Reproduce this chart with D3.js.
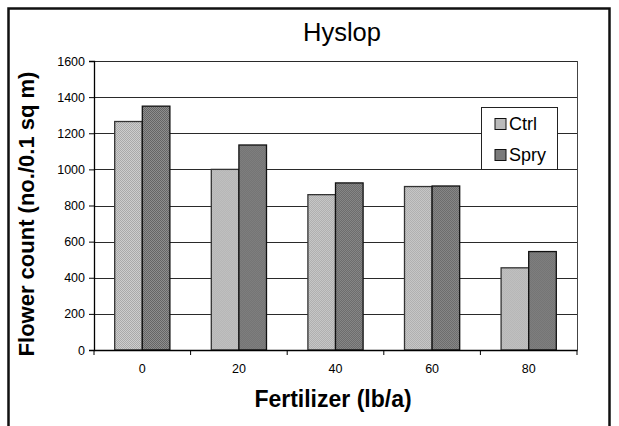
<!DOCTYPE html>
<html>
<head>
<meta charset="utf-8">
<script src="https://cdn.jsdelivr.net/npm/d3@7"></script>
<style>
  body { margin: 0; background: #fff; }
  text { font-family: Arial, "Liberation Sans", sans-serif; fill: #000; }
</style>
</head>
<body>
<div id="chart"></div>
<script>
// values
const categories = ["0", "20", "40", "60", "80"];
const seriesNames = ["Ctrl", "Spry"];
const ctrlValues = [1265, 1000, 860, 905, 455];
const spryValues = [1350, 1135, 925, 908, 545];
const yTicks = [0, 200, 400, 600, 800, 1000, 1200, 1400, 1600];

const W = 619, H = 426;
const plot = {left: 94, right: 577, top: 61, bottom: 350};
const font = "Arial, 'Liberation Sans', sans-serif";

const svg = d3.select("#chart").append("svg")
  .attr("width", W)
  .attr("height", H);

// dotted fills like the old excel bars
const defs = svg.append("defs");
function checker(id, base, dot) {
  const p = defs.append("pattern")
    .attr("id", id)
    .attr("width", 2).attr("height", 2)
    .attr("patternUnits", "userSpaceOnUse");
  p.append("rect").attr("width", 2).attr("height", 2).attr("fill", base);
  p.append("rect").attr("width", 1).attr("height", 1).attr("fill", dot);
  p.append("rect").attr("x", 1).attr("y", 1).attr("width", 1).attr("height", 1).attr("fill", dot);
}
checker("pCtrl", "#cdcdcd", "#a9a9a9");
checker("pSpry", "#8e8e8e", "#656565");
const fills = {Ctrl: "url(#pCtrl)", Spry: "url(#pSpry)"};

// outer frame
svg.append("rect")
  .attr("x", 8.5).attr("y", 8.5)
  .attr("width", 601).attr("height", 440)
  .attr("fill", "none")
  .attr("stroke", "#111")
  .attr("stroke-width", 2.5);

const x = d3.scaleBand()
  .domain(categories)
  .range([plot.left, plot.right]);

const xs = d3.scaleBand()
  .domain(seriesNames)
  .range([0, x.bandwidth()])
  .paddingOuter(0.75);

const y = d3.scaleLinear()
  .domain([0, 1600])
  .range([plot.bottom, plot.top]);

// gridlines
svg.append("g")
  .selectAll("line")
  .data(yTicks.filter(d => d > 0))
  .enter().append("line")
  .attr("x1", plot.left).attr("x2", plot.right)
  .attr("y1", d => Math.round(y(d)) + 0.5)
  .attr("y2", d => Math.round(y(d)) + 0.5)
  .attr("stroke", "#2a2a2a")
  .attr("stroke-width", 1);

// right edge of plot area
svg.append("line")
  .attr("x1", plot.right + 0.5).attr("x2", plot.right + 0.5)
  .attr("y1", plot.top).attr("y2", plot.bottom)
  .attr("stroke", "#444");

// bars
const rows = categories.map((c, i) => ({cat: c, Ctrl: ctrlValues[i], Spry: spryValues[i]}));

svg.append("g")
  .selectAll("g")
  .data(rows)
  .enter().append("g")
  .attr("transform", d => "translate(" + x(d.cat) + ",0)")
  .selectAll("rect")
  .data(d => seriesNames.map(s => ({key: s, value: d[s]})))
  .enter().append("rect")
  .attr("x", d => xs(d.key))
  .attr("y", d => y(d.value))
  .attr("width", xs.bandwidth())
  .attr("height", d => plot.bottom - y(d.value))
  .attr("fill", d => fills[d.key])
  .attr("stroke", d => d.key == "Spry" ? "#111" : "#333")
  .attr("stroke-width", 1.3);

// axes
const xAxis = d3.axisBottom(x).tickSize(0).tickPadding(14);
const gx = svg.append("g")
  .attr("transform", "translate(0," + plot.bottom + ")")
  .call(xAxis);
gx.select(".domain").attr("stroke", "#000").attr("stroke-width", 1.3);
gx.selectAll("text").attr("font-size", 12.5).attr("font-family", font);
// excel style ticks between categories
gx.selectAll(".sep")
  .data(d3.range(categories.length + 1))
  .enter().append("line")
  .attr("class", "sep")
  .attr("x1", i => plot.left + i * x.step())
  .attr("x2", i => plot.left + i * x.step())
  .attr("y1", 0).attr("y2", 5)
  .attr("stroke", "#000");

const yAxis = d3.axisLeft(y).tickValues(yTicks).tickFormat(d3.format("d")).tickSize(5).tickPadding(4);
const gy = svg.append("g")
  .attr("transform", "translate(" + plot.left + ",0)")
  .call(yAxis);
gy.select(".domain").attr("stroke", "#000").attr("stroke-width", 1.3);
gy.selectAll("line").attr("stroke", "#000");
gy.selectAll("text").attr("font-size", 12.5).attr("font-family", font);

// titles
svg.append("text")
  .attr("x", 342).attr("y", 41)
  .attr("text-anchor", "middle")
  .attr("font-size", 25.5)
  .text("Hyslop");

svg.append("text")
  .attr("x", 333).attr("y", 407)
  .attr("text-anchor", "middle")
  .attr("font-size", 23)
  .attr("font-weight", "bold")
  .text("Fertilizer (lb/a)");

svg.append("text")
  .attr("transform", "translate(34,214) rotate(-90)")
  .attr("text-anchor", "middle")
  .attr("font-size", 22)
  .attr("font-weight", "bold")
  .text("Flower count (no./0.1 sq m)");

// legend
const legend = svg.append("g").attr("transform", "translate(481,107)");
legend.append("rect")
  .attr("x", 0.5).attr("y", 0.5)
  .attr("width", 76).attr("height", 62)
  .attr("fill", "#fff")
  .attr("stroke", "#222");

const item = legend.selectAll(".item")
  .data(seriesNames)
  .enter().append("g")
  .attr("class", "item")
  .attr("transform", (d, i) => "translate(14," + (11.5 + i * 31) + ")");
item.append("rect")
  .attr("width", 11).attr("height", 11)
  .attr("fill", d => fills[d])
  .attr("stroke", "#111");
item.append("text")
  .attr("x", 14).attr("y", 11.5)
  .attr("font-size", 18)
  .text(d => d);
</script>
</body>
</html>
